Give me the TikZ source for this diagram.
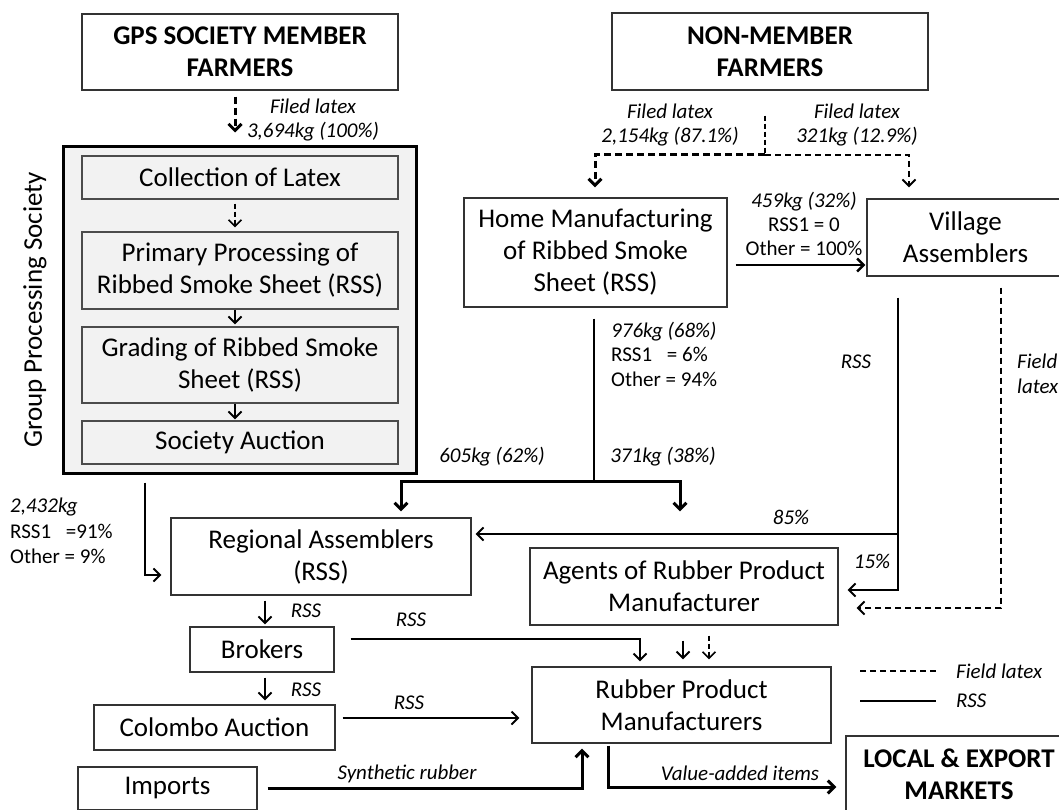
\documentclass[tikz,border=0pt]{standalone}
\usepackage{fontspec}
\setmainfont{Carlito}
\usetikzlibrary{arrows.meta,calc}
\begin{document}
\begin{tikzpicture}[x=1pt,y=-1pt,
  box/.style={draw=black!80, line width=1.2pt, fill=white, align=center, inner sep=0pt,
    font=\fontsize{27}{32}\selectfont},
  hbox/.style={box, font=\bfseries\fontsize{27}{32}\selectfont},
  ibox/.style={box, fill=black!5, draw=black!70},
  lab/.style={font=\itshape\fontsize{21}{24.5}\selectfont, align=center, inner sep=0pt},
  labn/.style={font=\fontsize{21}{24.5}\selectfont, align=left, inner sep=0pt, anchor=west},
  tip/.style={-{Straight Barb[length=6.5pt,width=13pt]}},
  rss/.style={line width=2pt, tip},
  rssthick/.style={line width=3pt, tip},
  fl/.style={line width=2pt, dash pattern=on 6pt off 4pt, tip},
  flthick/.style={line width=3pt, dash pattern=on 7pt off 4pt, tip},
]
\useasboundingbox (0,0) rectangle (1059,810);
\clip (0,0) rectangle (1059,810);

% ---- group processing society container ----
\node[draw, line width=3pt, fill=black!5, minimum width=353pt, minimum height=326pt, inner sep=0pt] (grp) at (239.5,310) {};
\node[rotate=90, font=\fontsize{27}{32}\selectfont] (grplab) at (35,310) {Group Processing Society};

% ---- boxes ----
\node[hbox, minimum width=316pt, minimum height=76pt] (gps) at (240,52) {GPS SOCIETY MEMBER\\FARMERS};
\node[hbox, minimum width=316pt, minimum height=77pt] (nm) at (770,51.5) {NON-MEMBER\\FARMERS};
\node[ibox, minimum width=316pt, minimum height=43pt] (coll) at (240,177.5) {Collection of Latex};
\node[ibox, minimum width=316pt, minimum height=77pt] (prim) at (240,270.5) {Primary Processing of\\Ribbed Smoke Sheet (RSS)};
\node[ibox, minimum width=316pt, minimum height=76pt] (grade) at (240,365) {Grading of Ribbed Smoke\\Sheet (RSS)};
\node[ibox, minimum width=316pt, minimum height=43pt] (auct) at (240,442.5) {Society Auction};
\node[box, minimum width=263pt, minimum height=109pt] (home) at (595.5,252.5) {Home Manufacturing\\of Ribbed Smoke\\Sheet (RSS)};
\node[box, minimum width=197pt, minimum height=77pt] (vill) at (965.5,237.5) {Village\\Assemblers};
\node[box, minimum width=300pt, minimum height=77pt] (reg) at (321,556.5) {Regional Assemblers\\(RSS)};
\node[box, minimum width=308pt, minimum height=77pt] (agt) at (684,586.5) {Agents of Rubber Product\\Manufacturer};
\node[box, minimum width=144pt, minimum height=45pt] (brk) at (262,649.5) {Brokers};
\node[box, minimum width=241pt, minimum height=45pt] (col) at (214.5,727.5) {Colombo Auction};
\node[box, minimum width=299pt, minimum height=76pt] (rpm) at (681.5,705) {Rubber Product\\Manufacturers};
\node[box, minimum width=179pt, minimum height=43pt] (imp) at (167.5,788.5) {Imports};
\node[hbox, minimum width=226pt, minimum height=77pt] (mkt) at (959,774.5) {LOCAL \& EXPORT\\MARKETS};

% ---- helper coordinates ----
\coordinate (gx) at (235,0);
\coordinate (sp) at (765,155);
\coordinate (vx) at (909,0);
\coordinate (hv) at (0,265);
\coordinate (hsplit) at (594,481);
\coordinate (rx) at (401,0);
\coordinate (vs) at (898,534);
\coordinate (vd) at (1001,0);
\coordinate (ax) at (145,0);
\coordinate (bx) at (265,0);
\coordinate (px) at (640,0);
\coordinate (ax1) at (683,0);
\coordinate (ax2) at (709,0);
\coordinate (cy) at (0,718);
\coordinate (ix) at (582,0);
\coordinate (ox) at (608,0);
\coordinate (oy) at (0,787);

% ---- member farmers into the society ----
\draw[flthick] ($(gps.south -| gx)+(0,6)$) -- ($(grp.north -| gx)+(0,-13)$);
\node[lab] (l1) at (313,120) {Filed latex\\3,694kg (100\%)};
\draw[line width=1.6pt, dash pattern=on 5pt off 3pt, tip] ($(coll.south -| gx)+(0,4)$) -- ($(prim.north -| gx)+(0,-4)$);
\draw[rss] (prim.south -| gx) -- ($(grade.north -| gx)+(0,-2)$);
\draw[rss] (grade.south -| gx) -- ($(auct.north -| gx)+(0,-1)$);

% ---- non-member farmers split ----
\draw[line width=1.5pt, dash pattern=on 5pt off 3pt] ($(nm.south -| sp)+(0,25)$) -- (sp);
\draw[flthick] (sp) -| ($(home.north)+(-0.5,-10)$);
\draw[fl] (sp) -| ($(vill.north -| vx)+(0,-11)$);
\node[lab] (l2) at (670,125) {Filed latex\\2,154kg (87.1\%)};
\node[lab] (l3) at (857,125) {Filed latex\\321kg (12.9\%)};

% ---- home manufacturing outputs ----
\draw[line width=2.5pt, tip] ($(home.east |- hv)+(8,0)$) -- ($(vill.west |- hv)+(-1,0)$);
\node[font=\fontsize{21}{24}\selectfont, align=center, inner sep=0pt] (l4) at (804,224) {\textit{459kg (32\%)}\\RSS1 = 0\\Other = 100\%};
\draw[line width=2pt] ($(home.south -| hsplit)+(0,11)$) -- (hsplit);
\draw[rssthick] (hsplit) -| ($(reg.north -| rx)+(0,-6)$);
\draw[rssthick] (hsplit) -| ($(agt.north)+(-4,-36)$);
\node[labn] (l5) at (611,354) {\textit{976kg (68\%)}\\RSS1\hspace{0.7em}= 6\%\\Other = 94\%};
\node[lab] (l6) at (492,457) {605kg (62\%)};
\node[lab] (l7) at (663,457) {371kg (38\%)};

% ---- village assemblers outputs ----
\draw[rss] ($(vill.south -| vs)+(0,21)$) |- ($(agt.east)+(9,3.5)$);
\draw[rss] (vs) -- ($(reg.east |- vs)+(4,0)$);
\node[lab] (l8) at (856,362) {RSS};
\node[lab] (l9) at (791,517) {85\%};
\node[lab] (l10) at (872,561) {15\%};
\draw[fl] ($(vill.south -| vd)+(0,11)$) |- ($(agt.east)+(18,21.5)$);
\node[lab, align=left, anchor=west] (l11) at (1017,374) {Field\\latex};

% ---- society auction to regional assemblers ----
\draw[rss] ($(grp.south -| ax)+(0,8)$) |- ($(reg.west)+(-9,18.5)$);
\node[labn, font=\fontsize{21}{25.5}\selectfont] (l12) at (10,531) {\textit{2,432kg}\\RSS1\hspace{0.7em}=91\%\\Other = 9\%};

% ---- trade chain ----
\draw[rss] ($(reg.south -| bx)+(0,5)$) -- ($(brk.north -| bx)+(0,-2)$);
\node[lab] (l13) at (306,611) {RSS};
\draw[rss] ($(brk.south -| bx)+(0,5)$) -- ($(col.north -| bx)+(0,-4)$);
\node[lab] (l14) at (306,690) {RSS};
\draw[rss] ($(brk.east)+(16,-10.5)$) -| ($(rpm.north -| px)+(0,-5)$);
\node[lab] (l15) at (411,620) {RSS};
\draw[rss] ($(agt.south -| ax1)+(0,15)$) -- ($(rpm.north -| ax1)+(0,-7)$);
\draw[line width=1.6pt, dash pattern=on 5pt off 3pt, tip] ($(agt.south -| ax2)+(0,10)$) -- ($(rpm.north -| ax2)+(0,-7)$);
\draw[rss] ($(col.east |- cy)+(7,0)$) -- ($(rpm.west |- cy)+(-12,0)$);
\node[lab] (l16) at (409,703) {RSS};
\draw[rssthick] ($(imp.east)+(10,-0.5)$) -| ($(rpm.south -| ix)+(0,5)$);
\node[lab] (l17) at (407,774) {Synthetic rubber};
\draw[rssthick] ($(rpm.south -| ox)+(0,2)$) |- ($(mkt.west |- oy)+(-9,0)$);
\node[lab] (l18) at (740,773) {Value-added items};

% ---- key ----
\coordinate (k1a) at (860,671);
\coordinate (k1b) at (936,671);
\coordinate (k2a) at (860,701);
\coordinate (k2b) at (936,701);
\draw[line width=2pt, dash pattern=on 6pt off 4pt] (k1a) -- (k1b);
\node[lab, anchor=west] (k1) at (956,671) {Field latex};
\draw[line width=2pt] (k2a) -- (k2b);
\node[lab, anchor=west] (k2) at (956,701) {RSS};
\end{tikzpicture}
\end{document}
